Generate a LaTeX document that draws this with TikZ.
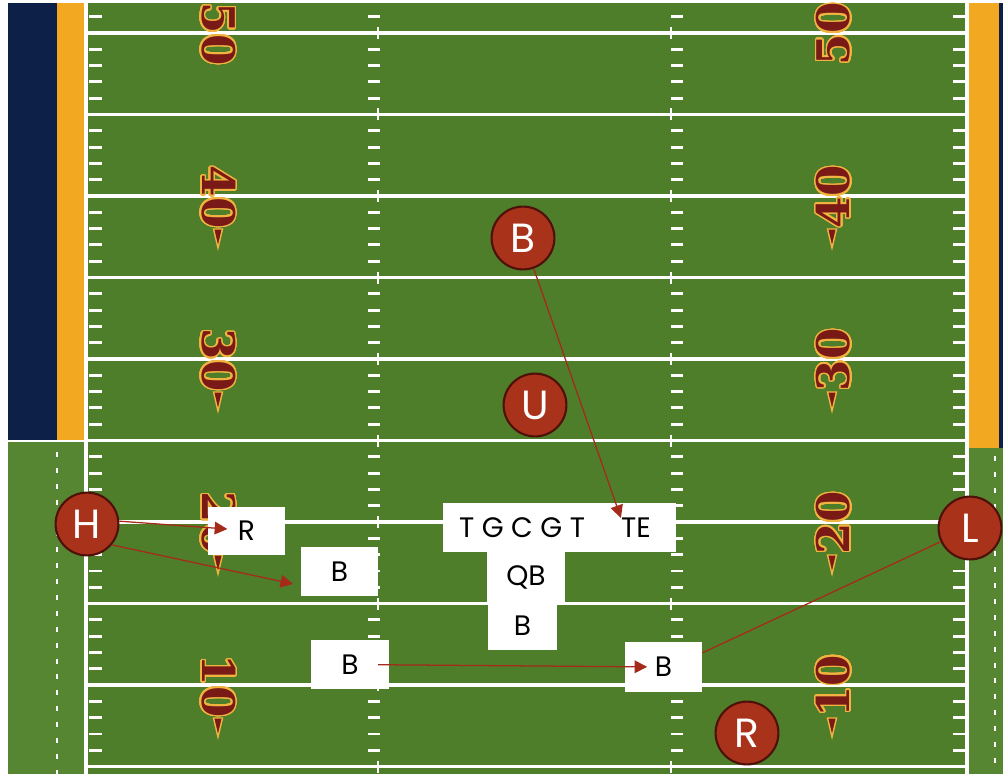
\documentclass[tikz,border=0pt]{standalone}
\usepackage{fontspec}
\setmainfont{Poppins}
\newfontfamily\numfont{DejaVu Serif}[BoldFont={DejaVu Serif Bold}]
\usepackage{contour}
\usetikzlibrary{arrows.meta,positioning,calc}
\definecolor{turf}{HTML}{4F7E2A}
\definecolor{turfside}{HTML}{568631}
\definecolor{navyband}{HTML}{0D2148}
\definecolor{goldband}{HTML}{F3A822}
\definecolor{numgold}{HTML}{F2B440}
\definecolor{numred}{HTML}{7A1A16}
\definecolor{rust}{HTML}{A8321A}
\definecolor{rustdk}{HTML}{4E1008}
\definecolor{arrowred}{HTML}{A52A1A}
\contourlength{1.1pt}
\contournumber{32}
\tikzset{
  pbox/.style={fill=white,inner sep=0pt,text=black,font=\fontsize{20}{20}\selectfont},
  ptext/.style={inner sep=0pt,text=black,font=\fontsize{20}{20}\selectfont},
  player/.style={circle,fill=rust,draw=rustdk,line width=1.5pt,minimum size=1.57cm,inner sep=0pt,text=white,font=\fontsize{29}{29}\selectfont},
  arr/.style={draw=arrowred,line width=0.9pt,-{Triangle[length=9pt,width=9pt]}},
  route/.style={draw=arrowred,line width=0.9pt},
  yard/.style={white,line width=2.4pt},
  hash/.style={white,line width=2pt},
  ydnum/.style={inner sep=0pt,text=numred,font=\numfont\bfseries\fontsize{32}{32}\selectfont},
  ydtri/.style={fill=numred,draw=numgold,line width=1pt},
}
\begin{document}
\begin{tikzpicture}[x=0.025cm,y=-0.025cm]
\useasboundingbox (0,0) rectangle (1003,774);
% field, bands and sideline areas
\fill[white] (0,0) rectangle (1003,774);
\fill[navyband] (8,3) rectangle (57,441);
\fill[goldband] (57,3) rectangle (84,441);
\fill[turfside] (8,441) rectangle (84,774);
\fill[turf] (84,3) rectangle (968,774);
\fill[goldband] (968,3) rectangle (999,448);
\fill[navyband] (999,3) rectangle (1003,448);
\fill[turfside] (968,448) rectangle (1003,774);
\draw[white,line width=1.5pt] (8,441) -- (84,441);
\draw[white,line width=2pt,dash pattern=on 3.5pt off 7.8pt] (57,452) -- (57,774);
\draw[white,line width=2pt,dash pattern=on 3.5pt off 7.8pt] (995,456) -- (995,774);
\draw[white,line width=3.5pt] (86,3) -- (86,774) (967,3) -- (967,774);
% yard lines and hash marks
\foreach \k in {0,...,9}{
  \pgfmathsetmacro\yy{33+81.5*\k}
  \draw[yard] (88,\yy) -- (966,\yy);
  \draw[hash] (378,\yy-6) -- (378,\yy+6) (671,\yy-6) -- (671,\yy+6);
}
\begin{scope}
\clip (84,3) rectangle (968,774);
\foreach \k in {-1,...,9}{
  \foreach \j in {1,...,4}{
    \pgfmathsetmacro\yy{33+81.5*\k+16.3*\j}
    \draw[hash] (89,\yy) -- (102,\yy) (368,\yy) -- (380,\yy)
      (671,\yy) -- (683,\yy) (953,\yy) -- (965,\yy);
  }
}
\end{scope}
% yard numbers
\foreach \n/\k in {50/0,40/2,30/4,20/6,10/8}{
  \pgfmathsetmacro\yy{34+81.5*\k}
  \node[ydnum,rotate=-90] (numL\n) at (218,\yy) {\contour{numgold}{\n}};
  \node[ydnum,rotate=90] (numR\n) at (834,\yy) {\contour{numgold}{\n}};
}
\foreach \k in {2,4,6,8}{
  \pgfmathsetmacro\yy{33+81.5*\k}
  \filldraw[ydtri] (213.5,\yy+33) -- (222.5,\yy+33) -- (218,\yy+52) -- cycle;
  \filldraw[ydtri] (827.5,\yy+33) -- (836.5,\yy+33) -- (832,\yy+52) -- cycle;
}
% offense
\node[pbox,minimum width=1.925cm,minimum height=1.2cm] (rbox) at (246.5,531) {R};
\node[pbox,minimum width=1.925cm,minimum height=1.225cm] (b1) at (339.5,571.5) {B};
\node[pbox,minimum width=5.825cm,minimum height=1.225cm] (los) at (559.5,527.5) {};
\node[ptext] (line) at (522,528) {T G C G T};
\node[ptext] (te) at (636,528) {TE};
\node[pbox,minimum width=1.95cm,minimum height=1.25cm] (qb) at (526,577) {QB};
\node[pbox,minimum width=1.725cm,minimum height=1.2cm] (b2) at (522.5,626) {B};
\node[pbox,minimum width=1.95cm,minimum height=1.225cm] (b3) at (350,664.5) {B};
\node[pbox,minimum width=1.925cm,minimum height=1.25cm] (b4) at (663.5,667) {B};
% defense
\node[player] (bcirc) at (523,238) {B};
\node[player] (ucirc) at (535,405) {U};
\node[player] (hcirc) at (87,524) {H};
\node[player] (lcirc) at (970,528) {L};
\node[player] (rcirc) at (747,733) {R};
% assignments
\draw[arr] (bcirc) -- (te.north west);
\draw[arr,shorten >=-14pt] (hcirc.5) -- (rbox.175);
\draw[arr,shorten >=5.5pt] (hcirc.-40) -- (b1.200);
\draw[arr,shorten <=-8pt,shorten >=-16pt] (b3) -- (b4);
\draw[route] (lcirc) -- (b4.20);
\end{tikzpicture}
\end{document}
